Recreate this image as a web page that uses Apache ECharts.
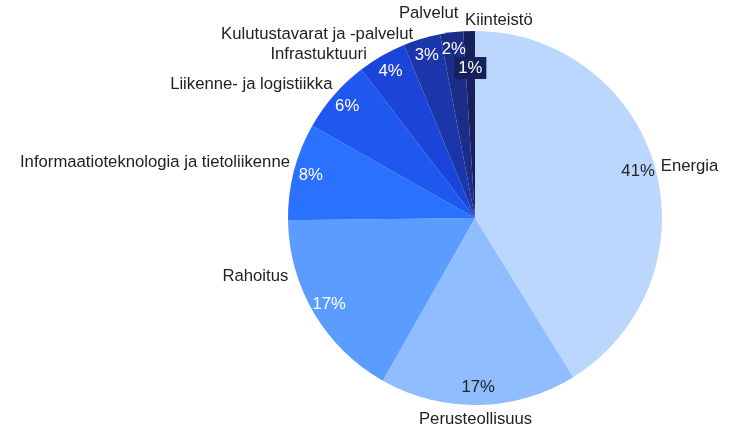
<!DOCTYPE html>
<html>
<head>
<meta charset="utf-8">
<script src="https://cdn.jsdelivr.net/npm/echarts@6/dist/echarts.min.js"></script>
<style>
  html, body { margin: 0; padding: 0; background: #fff; }
  #chart { width: 729px; height: 426px; }
</style>
</head>
<body>
<div id="chart"></div>
<script>
  // Datas
  var categories = ['Energia', 'Perusteollisuus', 'Rahoitus', 'Informaatioteknologia ja tietoliikenne',
    'Liikenne- ja logistiikka', 'Infrastuktuuri', 'Kulutustavarat ja -palvelut', 'Palvelut', 'Kiinteistö'];
  var shares = [41.2, 17.0, 16.6, 8.4, 6.4, 4.2, 3.2, 2.0, 1.0];
  var sliceColors = ['#bcd7fe', '#8fbdff', '#5a9cff', '#2a72fd', '#1f58ef', '#1b45d8', '#1b36aa', '#1b2d88', '#16205c'];
  var pctColors = ['#222', '#222', '#fff', '#fff', '#fff', '#fff', '#fff', '#fff', '#fff'];

  var center = [475, 218];
  var font = 'Liberation Sans, Arial, sans-serif';
  var fs = 16.7;

  function pct(p) { return Math.round(p.percent) + '%'; }

  // small nudges of the name labels, like the original chart places them
  function nameLayout(p) {
    var nudge = {
      1: { dx: -7, dy: 12, align: 'center' },
      2: { dx: -20, dy: -38 },
      3: { dx: 2, dy: -9 },
      4: { dx: 4, dy: -10 },
      5: { dx: -10, dy: 0 },
      6: { dx: -4, dy: -2 },
      7: { dx: 11, dy: -17 },
      8: { dx: 0, dy: -9, align: 'left' }
    }[p.dataIndex] || {};
    nudge.hideOverlap = false;
    nudge.moveOverlap = null;
    return nudge;
  }

  var mainData = categories.map(function (name, i) {
    return { name: name, value: shares[i], itemStyle: { color: sliceColors[i] } };
  });
  var ringData = categories.map(function (name, i) {
    return {
      name: name, value: shares[i],
      label: { show: i !== 8, color: pctColors[i] }
    };
  });
  var smallData = categories.map(function (name, i) {
    return {
      name: name, value: shares[i],
      label: i === 8 ? { show: true, color: '#fff', backgroundColor: sliceColors[i], padding: [3, 4, 2, 4] } : { show: false }
    };
  });

  var chart = echarts.init(document.getElementById('chart'));
  chart.setOption({
    animation: false,
    backgroundColor: '#fff',
    series: [{
      type: 'pie',
      center: center,
      radius: 187,
      startAngle: 90,
      data: mainData,
      avoidLabelOverlap: false,
      label: {
        show: true,
        position: 'outside',
        formatter: '{b}',
        color: '#222',
        fontFamily: font,
        fontSize: fs,
        distanceToLabelLine: 4
      },
      labelLine: { show: false, length: 2, length2: 0 },
      labelLayout: nameLayout,
      itemStyle: { borderWidth: 0 }
    }, {
      type: 'pie',
      center: center,
      radius: [146, 187],
      startAngle: 90,
      silent: true,
      data: ringData,
      itemStyle: { color: 'transparent' },
      label: { position: 'inside', formatter: pct, fontFamily: font, fontSize: fs },
      labelLine: { show: false },
      labelLayout: { hideOverlap: false }
    }, {
      type: 'pie',
      center: center,
      radius: [106, 188],
      startAngle: 90,
      silent: true,
      data: smallData,
      itemStyle: { color: 'transparent' },
      label: { position: 'inside', formatter: pct, fontFamily: font, fontSize: fs },
      labelLine: { show: false },
      labelLayout: { hideOverlap: false }
    }]
  });
</script>
</body>
</html>
